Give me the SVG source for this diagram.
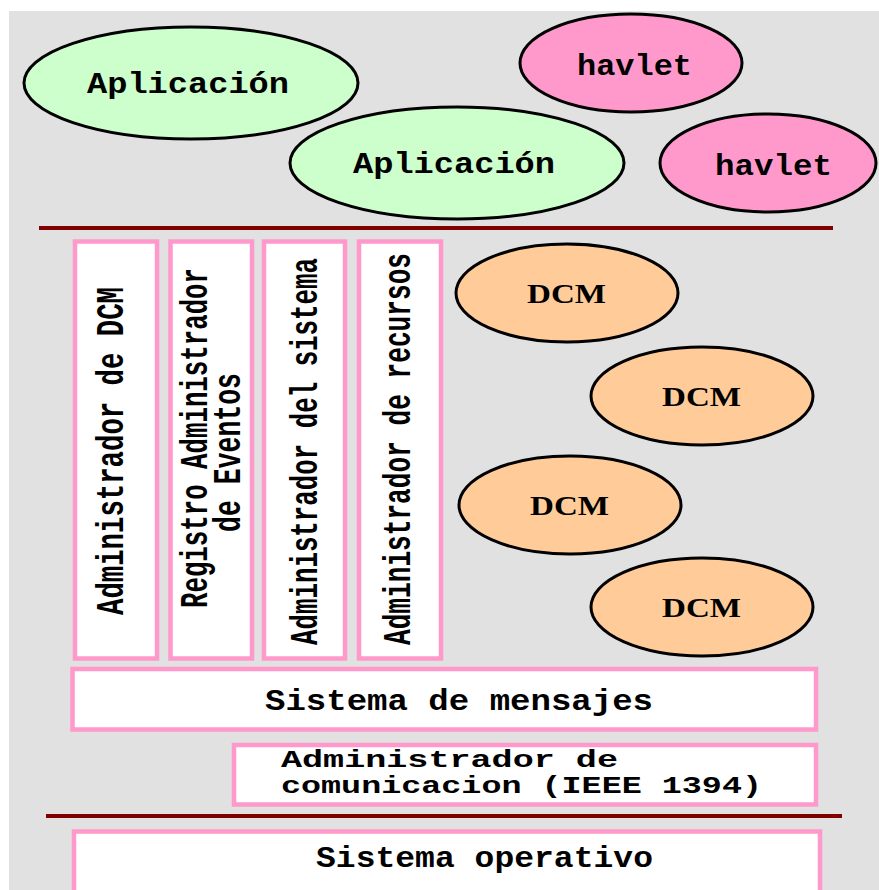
<svg xmlns="http://www.w3.org/2000/svg" width="879" height="890" viewBox="0 0 879 890">
<style>
.ell{stroke:#000;stroke-width:3}
.app{fill:#CCFFCC}
.hav{fill:#FF99CC}
.dcm{fill:#FFCC99}
.box{fill:#FFFFFF;stroke:#FF99CC;stroke-width:4.5}
.sep{stroke:#800000;stroke-width:4}
.t{font-family:"Liberation Mono","Courier New",monospace;font-weight:bold;fill:#000;font-size:29px}
.tc{font-family:"Liberation Mono","Courier New",monospace;font-weight:bold;fill:#000;font-size:23px}
.tv{font-family:"Liberation Mono","Courier New",monospace;font-weight:bold;fill:#000;font-size:39px}
.ts{font-family:"Liberation Serif","Times New Roman",serif;font-weight:bold;fill:#000;font-size:27px}
</style>
<rect x="0" y="0" width="879" height="890" fill="#FFFFFF"/>
<rect x="9" y="11" width="870" height="879" fill="#E1E1E1"/>
<g id="connectors">
<line class="sep" x1="39" y1="228" x2="833" y2="228"/>
<line class="sep" x1="46" y1="816" x2="842" y2="816"/>
</g>
<g id="app1"><ellipse class="ell app" cx="191" cy="83" rx="167" ry="56"/><text class="t" x="87" y="93" textLength="202" lengthAdjust="spacingAndGlyphs">Aplicación</text></g>
<g id="havlet1"><ellipse class="ell hav" cx="631" cy="63" rx="111" ry="49"/><text class="t" x="577" y="75" textLength="115" lengthAdjust="spacingAndGlyphs">havlet</text></g>
<g id="app2"><ellipse class="ell app" cx="457" cy="163" rx="167" ry="56"/><text class="t" x="353" y="173" textLength="202" lengthAdjust="spacingAndGlyphs">Aplicación</text></g>
<g id="havlet2"><ellipse class="ell hav" cx="768" cy="163" rx="108" ry="49"/><text class="t" x="715" y="175" textLength="117" lengthAdjust="spacingAndGlyphs">havlet</text></g>
<g id="adm-dcm"><rect class="box" x="75" y="241.5" width="82" height="417"/><text class="tv" transform="translate(123,615) rotate(-90)" textLength="328" lengthAdjust="spacingAndGlyphs">Administrador de DCM</text></g>
<g id="registro"><rect class="box" x="170.5" y="241.5" width="81.5" height="417"/><text class="tv" transform="translate(206.5,608) rotate(-90)" textLength="340" lengthAdjust="spacingAndGlyphs">Registro Administrador</text><text class="tv" transform="translate(240,532) rotate(-90)" textLength="159" lengthAdjust="spacingAndGlyphs">de Eventos</text></g>
<g id="adm-sistema"><rect class="box" x="264" y="241.5" width="81" height="417"/><text class="tv" transform="translate(316.5,645) rotate(-90)" textLength="387" lengthAdjust="spacingAndGlyphs">Administrador del sistema</text></g>
<g id="adm-recursos"><rect class="box" x="359" y="241.5" width="82" height="417"/><text class="tv" transform="translate(410,645) rotate(-90)" textLength="392" lengthAdjust="spacingAndGlyphs">Administrador de recursos</text></g>
<g id="dcm1"><ellipse class="ell dcm" cx="567" cy="293" rx="111" ry="49"/><text class="ts" x="527" y="303" textLength="79" lengthAdjust="spacingAndGlyphs">DCM</text></g>
<g id="dcm2"><ellipse class="ell dcm" cx="702" cy="396" rx="111" ry="49"/><text class="ts" x="662" y="406" textLength="79" lengthAdjust="spacingAndGlyphs">DCM</text></g>
<g id="dcm3"><ellipse class="ell dcm" cx="570" cy="505" rx="111" ry="49"/><text class="ts" x="530" y="515" textLength="79" lengthAdjust="spacingAndGlyphs">DCM</text></g>
<g id="dcm4"><ellipse class="ell dcm" cx="702" cy="607" rx="111" ry="49"/><text class="ts" x="662" y="617" textLength="79" lengthAdjust="spacingAndGlyphs">DCM</text></g>
<g id="mensajes"><rect class="box" x="72.5" y="669" width="743.5" height="60.5"/><text class="t" x="265" y="710" textLength="388" lengthAdjust="spacingAndGlyphs">Sistema de mensajes</text></g>
<g id="comunicacion"><rect class="box" x="234" y="745" width="582" height="59.5"/><text class="tc" x="281" y="767" textLength="337" lengthAdjust="spacingAndGlyphs">Administrador de</text><text class="tc" x="281" y="793" textLength="481" lengthAdjust="spacingAndGlyphs">comunicacion (IEEE 1394)</text></g>
<g id="so"><rect class="box" x="74" y="831.5" width="746" height="70"/><text class="t" x="316" y="867" textLength="337" lengthAdjust="spacingAndGlyphs">Sistema operativo</text></g>
</svg>
